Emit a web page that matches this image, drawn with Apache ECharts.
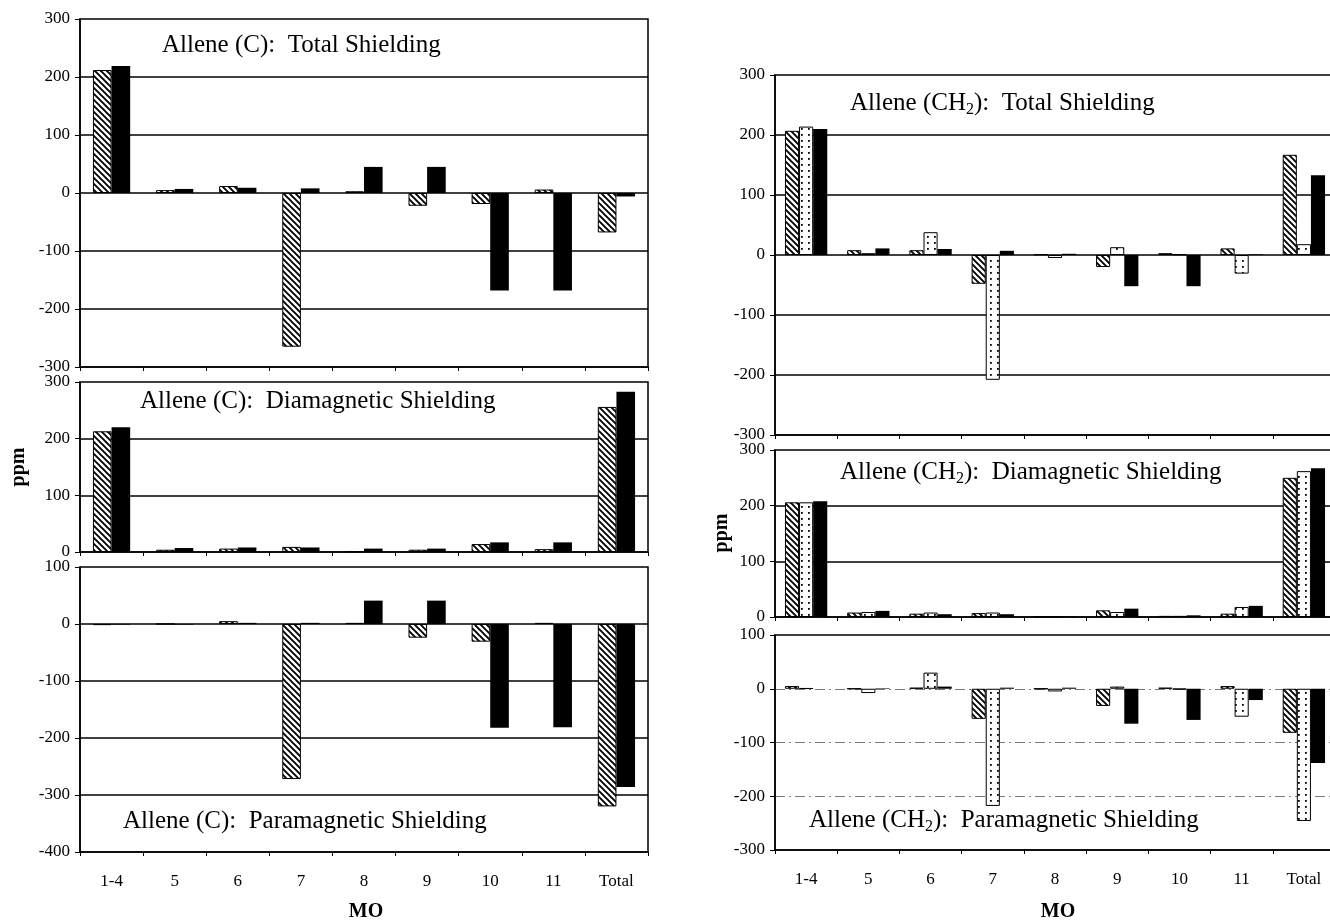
<!DOCTYPE html>
<html><head><meta charset="utf-8">
<script src="https://cdn.jsdelivr.net/npm/echarts@6/dist/echarts.min.js"></script>
<style>html,body{margin:0;padding:0;background:#fff;overflow:hidden;width:1330px;height:921px}#c{width:1350px;height:921px}</style>
</head><body><div id="c"></div>
<script>
// ---------- data ----------
const categories = ['1-4', '5', '6', '7', '8', '9', '10', '11', 'Total'];

// Allene (C): hatched series and black series
const cTotalHatched = [212, 5, 12, -265, 3, -22, -19, 6, -68];
const cTotalBlack   = [219, 7, 9, 8, 45, 45, -168, -168, -6];
const cDiaHatched   = [213, 4, 6, 9, 1, 4, 14, 5, 256];
const cDiaBlack     = [220, 7, 8, 8, 6, 6, 17, 17, 283];
const cParaHatched  = [-2, 0, 5, -272, 2, -24, -31, 2, -320];
const cParaBlack    = [-1, -1, 2, 2, 41, 41, -182, -181, -286];

// Allene (CH2): hatched, dotted, black series
const hTotalHatched = [207, 8, 8, -48, 1, -20, 3, 11, 167];
const hTotalDotted  = [214, 3, 38, -208, -5, 13, 1, -31, 18];
const hTotalBlack   = [210, 11, 10, 7, 2, -52, -52, 1, 133];
const hDiaHatched   = [206, 8, 6, 7, 1, 12, 2, 6, 250];
const hDiaDotted    = [206, 9, 8, 8, 1, 9, 2, 18, 262];
const hDiaBlack     = [208, 11, 5, 5, 1, 15, 3, 20, 267];
const hParaHatched  = [5, 0, 2, -56, 0, -32, 2, 5, -82];
const hParaDotted   = [1, -8, 30, -218, -5, 4, -1, -52, -246];
const hParaBlack    = [0, 1, 4, 2, 2, -65, -58, -21, -138];

// axis ranges [min, max]
const rangeCTotal = [-300, 300], rangeCDia = [0, 300], rangeCPara = [-400, 100];
const rangeHTotal = [-300, 300], rangeHDia = [0, 300], rangeHPara = [-300, 100];

const panelTitles = [
  '{m|Allene (C):  Total Shielding}',
  '{m|Allene (C):  Diamagnetic Shielding}',
  '{m|Allene (C):  Paramagnetic Shielding}',
  '{m|Allene (CH}{s|2}{m|):  Total Shielding}',
  '{m|Allene (CH}{s|2}{m|):  Diamagnetic Shielding}',
  '{m|Allene (CH}{s|2}{m|):  Paramagnetic Shielding}'
];

// ---------- patterns ----------
function hatchPattern() {
  const c = document.createElement('canvas'); c.width = 6; c.height = 6;
  const g = c.getContext('2d');
  g.fillStyle = '#fff'; g.fillRect(0, 0, 6, 6);
  g.strokeStyle = '#000'; g.lineWidth = 1.9;
  g.beginPath();
  g.moveTo(-1, -1); g.lineTo(7, 7);
  g.moveTo(-1, 5); g.lineTo(1, 7);
  g.moveTo(5, -1); g.lineTo(7, 1);
  g.stroke();
  return c;
}
function dotPattern() {
  const c = document.createElement('canvas'); c.width = 7; c.height = 6;
  const g = c.getContext('2d');
  g.fillStyle = '#fff'; g.fillRect(0, 0, 7, 6);
  g.fillStyle = '#000'; g.fillRect(3, 2, 1.8, 1.8);
  return c;
}
const HATCH = { image: hatchPattern(), repeat: 'repeat' };
const DOTS = { image: dotPattern(), repeat: 'repeat' };

const FONT = 'Liberation Serif';
const grids = [
  { left: 80, top: 19, width: 568, height: 348 },
  { left: 80, top: 382, width: 568, height: 170 },
  { left: 80, top: 567, width: 568, height: 285 },
  { left: 775, top: 75, width: 560, height: 360 },
  { left: 775, top: 450, width: 560, height: 167 },
  { left: 775, top: 635, width: 560, height: 215 }
].map(g => Object.assign(g, { show: true, borderColor: '#000', borderWidth: 1.5, backgroundColor: '#fff' }));

const ranges = [rangeCTotal, rangeCDia, rangeCPara, rangeHTotal, rangeHDia, rangeHPara];
const showCatLabels = [false, false, true, false, false, true];

const xAxis = [], yAxis = [];
ranges.forEach((r, i) => {
  xAxis.push({
    type: 'category', gridIndex: i, data: categories, position: 'bottom',
    axisLine: { show: false }, axisTick: { show: false }, splitLine: { show: false },
    axisLabel: { show: showCatLabels[i], fontFamily: FONT, fontSize: 17, color: '#000', margin: 21 }
  });
  xAxis.push({
    type: 'category', gridIndex: i, data: categories, position: 'bottom',
    axisLine: { show: true, onZero: true, lineStyle: { color: '#000', width: 1.5 } },
    axisTick: { show: true, length: 4, lineStyle: { color: '#000', width: 1 } },
    axisLabel: { show: false }, splitLine: { show: false }
  });
  const dashed = (i === 5);
  yAxis.push({
    type: 'value', gridIndex: i, min: r[0], max: r[1], interval: 100,
    axisLine: { show: true, lineStyle: { color: '#000', width: 1.5 } },
    axisTick: { show: true, length: 5, lineStyle: { color: '#000' } },
    axisLabel: { fontFamily: FONT, fontSize: 17, color: '#000', margin: 10 },
    splitLine: {
      show: true, showMaxLine: false, showMinLine: false,
      lineStyle: dashed ? { color: '#777', width: 1, type: [10, 4, 2, 4] } : { color: '#000', width: 1.6 }
    }
  });
});

function bar(name, data, i, style, gap) {
  return {
    name, type: 'bar', data, xAxisIndex: 2 * i, yAxisIndex: i,
    barGap: '0%', barCategoryGap: gap,
    itemStyle: style === 'hatch' ? { color: HATCH, borderColor: '#000', borderWidth: 1 }
             : style === 'dots' ? { color: DOTS, borderColor: '#000', borderWidth: 1 }
             : { color: '#000' },
    emphasis: { disabled: true }
  };
}
const LG = '41%', RG = '32%';
const series = [
  bar('Hatched', cTotalHatched, 0, 'hatch', LG), bar('Black', cTotalBlack, 0, 'solid', LG),
  bar('Hatched', cDiaHatched, 1, 'hatch', LG), bar('Black', cDiaBlack, 1, 'solid', LG),
  bar('Hatched', cParaHatched, 2, 'hatch', LG), bar('Black', cParaBlack, 2, 'solid', LG),
  bar('Hatched', hTotalHatched, 3, 'hatch', RG), bar('Dotted', hTotalDotted, 3, 'dots', RG), bar('Black', hTotalBlack, 3, 'solid', RG),
  bar('Hatched', hDiaHatched, 4, 'hatch', RG), bar('Dotted', hDiaDotted, 4, 'dots', RG), bar('Black', hDiaBlack, 4, 'solid', RG),
  bar('Hatched', hParaHatched, 5, 'hatch', RG), bar('Dotted', hParaDotted, 5, 'dots', RG), bar('Black', hParaBlack, 5, 'solid', RG)
];

const titlePos = [[162, 30], [140, 386], [123, 806], [850, 88], [840, 457], [809, 805]];
const rich = {
  m: { fontFamily: FONT, fontSize: 25, color: '#000', lineHeight: 30 },
  s: { fontFamily: FONT, fontSize: 16, color: '#000', lineHeight: 16, padding: [14, 0, 0, 0], verticalAlign: 'middle' }
};
const title = panelTitles.map((t, i) => ({
  text: t, left: titlePos[i][0], top: titlePos[i][1], padding: 0,
  textStyle: { rich, fontFamily: FONT, fontSize: 25, fontWeight: 'normal' }
}));

const chart = echarts.init(document.getElementById('c'), null, { renderer: 'canvas' });
chart.setOption({
  animation: false,
  backgroundColor: '#fff',
  title,
  grid: grids,
  xAxis, yAxis, series,
  graphic: [
    { type: 'text', x: 19, y: 467, rotation: Math.PI / 2, style: { text: 'ppm', font: 'bold 20px "Liberation Serif"', fill: '#000', textAlign: 'center', textVerticalAlign: 'middle' } },
    { type: 'text', x: 722, y: 533, rotation: Math.PI / 2, style: { text: 'ppm', font: 'bold 20px "Liberation Serif"', fill: '#000', textAlign: 'center', textVerticalAlign: 'middle' } },
    { type: 'text', x: 366, y: 912, style: { text: 'MO', font: 'bold 20px "Liberation Serif"', fill: '#000', textAlign: 'center', textVerticalAlign: 'middle' } },
    { type: 'text', x: 1058, y: 912, style: { text: 'MO', font: 'bold 20px "Liberation Serif"', fill: '#000', textAlign: 'center', textVerticalAlign: 'middle' } }
  ]
});
</script></body></html>
